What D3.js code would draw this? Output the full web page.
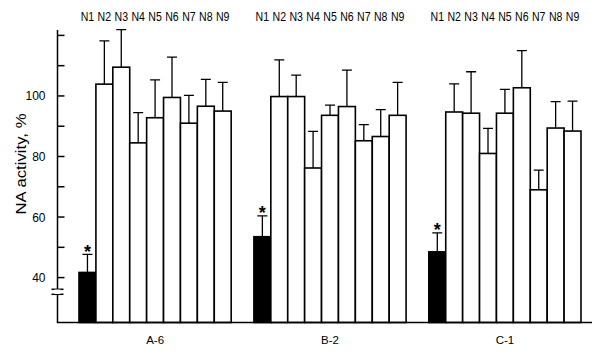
<!DOCTYPE html>
<html><head><meta charset="utf-8">
<script src="https://cdn.jsdelivr.net/npm/d3@7"></script>
<style>body{margin:0;background:#fff}svg{display:block}text{font-family:"Liberation Sans",Arial,sans-serif;fill:#000}</style>
</head><body><svg id="c" width="600" height="352"></svg>
<script>
const groups = ["A-6", "B-2", "C-1"];
const strains = ["N1","N2","N3","N4","N5","N6","N7","N8","N9"];
const valuesA = [41.7, 103.9, 109.5, 84.5, 92.8, 99.5, 91.0, 96.6, 95.0];
const errTopA = [47.7, 118.2, 121.9, 94.5, 105.3, 112.8, 100.2, 105.5, 104.5];
const valuesB = [53.5, 99.8, 99.8, 76.2, 93.6, 96.5, 85.2, 86.6, 93.6];
const errTopB = [60.4, 111.9, 106.9, 88.3, 97.0, 108.5, 90.5, 95.5, 104.5];
const valuesC = [48.5, 94.7, 94.3, 81.0, 94.3, 102.7, 69.0, 89.4, 88.4];
const errTopC = [54.8, 104.0, 108.0, 89.3, 102.2, 115.0, 75.5, 98.1, 98.3];
const yTicks = [40, 50, 60, 70, 80, 90, 100, 110, 120];
const yTickLabels = [40, 60, 80, 100];
const significant = ["N1"];
const yLabel = "NA activity, %";

(function () {
const values = [valuesA, valuesB, valuesC];
const errTops = [errTopA, errTopB, errTopC];
const svg = d3.select("#c");
const axisX = 57.5, axisTop = 30, baseY = 322.5;
const y = d3.scaleLinear().domain([25, 120]).range([323, 35.4]);
const xg = d3.scaleBand().domain(groups).range([79, 581]).paddingInner(0.13).paddingOuter(0);
const xs = d3.scaleBand().domain(strains).range([0, xg.bandwidth()]).padding(0);

const data = [];
groups.forEach((g, gi) => strains.forEach((s, si) => {
  const left = xg(g) + xs(s);
  data.push({g, s, v: values[gi][si], e: errTops[gi][si], left, cx: left + xs.bandwidth() / 2});
}));

const capHalf = 5;
svg.append("g").selectAll("path").data(data).join("path")
  .attr("fill", "none").attr("stroke", "#000").attr("stroke-width", 1.3)
  .attr("d", d => `M${d.cx},${y(d.v)}V${y(d.e)}M${d.cx - capHalf},${y(d.e)}H${d.cx + capHalf}`);

svg.append("g").selectAll("rect").data(data).join("rect")
  .attr("x", d => d.left)
  .attr("y", d => y(d.v))
  .attr("width", xs.bandwidth())
  .attr("height", d => baseY - y(d.v))
  .attr("fill", d => significant.includes(d.s) ? "#000" : "#fff")
  .attr("stroke", "#000").attr("stroke-width", 1.6);

svg.append("g").selectAll("text").data(data.filter(d => significant.includes(d.s))).join("text")
  .attr("x", d => d.cx).attr("y", d => y(d.e) + 3.5)
  .attr("text-anchor", "middle").attr("font-size", 18).attr("font-weight", "bold")
  .text("*");

svg.append("g").selectAll("text").data(data).join("text")
  .attr("transform", d => `translate(${d.cx},21) scale(0.88,1)`)
  .attr("text-anchor", "middle").attr("font-size", 12).text(d => d.s);

svg.append("g").selectAll("text").data(groups).join("text")
  .attr("x", g => xg(g) + xg.bandwidth() / 2).attr("y", 344)
  .attr("text-anchor", "middle").attr("font-size", 11.5).text(g => g);

const ax = svg.append("g").attr("stroke", "#000").attr("stroke-width", 1.5);
ax.append("line").attr("x1", axisX).attr("x2", axisX).attr("y1", axisTop).attr("y2", baseY);
ax.append("line").attr("x1", axisX - 0.7).attr("x2", 592).attr("y1", baseY).attr("y2", baseY);
yTicks.forEach(t => ax.append("line").attr("x1", axisX).attr("x2", axisX + 7).attr("y1", y(t)).attr("y2", y(t)));
svg.append("rect").attr("x", axisX - 3).attr("y", 289.5).attr("width", 6).attr("height", 4.5).attr("fill", "#fff");
ax.append("line").attr("x1", axisX - 6).attr("x2", axisX + 6).attr("y1", 289.3).attr("y2", 289.3);
ax.append("line").attr("x1", axisX - 6).attr("x2", axisX + 6).attr("y1", 294.3).attr("y2", 294.3);

svg.append("g").selectAll("text").data(yTickLabels).join("text")
  .attr("x", 45.5).attr("y", t => y(t) + 4.5)
  .attr("text-anchor", "end").attr("font-size", 12).text(t => t);

svg.append("text").attr("transform", "translate(26,164) rotate(-90) scale(1.08,1)")
  .attr("text-anchor", "middle").attr("font-size", 15.5).text(yLabel);
})();
</script></body></html>
